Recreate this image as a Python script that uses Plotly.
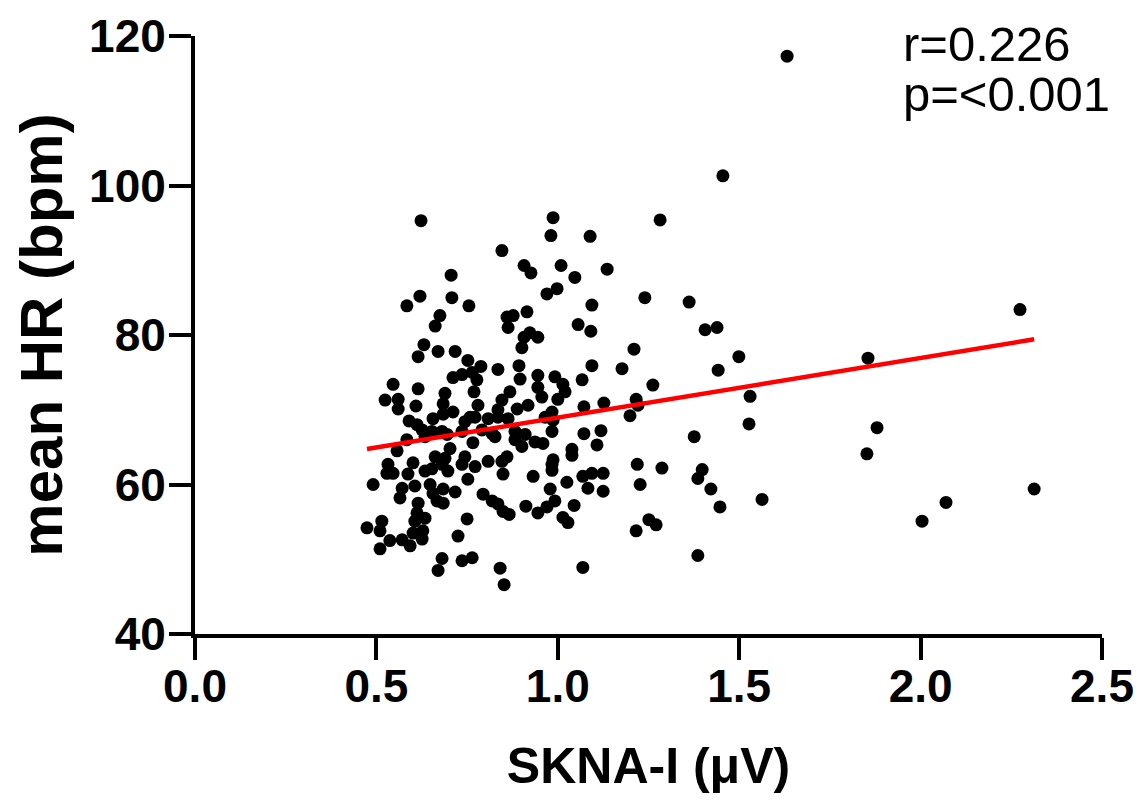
import numpy as np
import plotly.graph_objects as go

# SKNA-I (µV) values
skna = [
    1.632, 1.455, 1.282, 2.274, 1.362, 1.240, 1.406, 1.439, 1.499, 1.855,
    1.442, 1.530, 1.527, 1.880, 1.376, 1.852, 1.563, 2.004, 2.070, 2.313,
    1.386, 1.447, 1.398, 1.386, 1.422, 1.210, 1.262, 1.216, 1.221, 1.199,
    1.219, 1.287, 1.227, 1.251, 1.271, 1.216,
    0.987, 0.981, 1.089, 0.846, 0.907, 0.926, 1.009, 1.047, 1.136, 0.970,
    0.998, 1.094, 0.860, 0.877, 0.915, 0.863, 1.056, 1.091, 0.907, 0.923,
    0.945,
    0.901, 0.835, 0.893, 0.945, 0.992, 1.014, 1.020, 1.094, 1.177, 0.896,
    1.067, 0.945, 0.956, 1.000, 0.868, 0.846, 0.835, 0.888, 0.918, 0.863,
    0.835, 0.965, 0.984, 0.987, 1.072, 1.127, 0.882, 0.882, 0.910, 0.827,
    0.937, 0.959, 0.984, 1.072, 1.119, 1.108, 0.901, 1.039, 1.039, 0.860,
    0.846, 0.987,
    0.849, 0.932, 0.984, 0.984, 1.025, 0.979, 1.069, 1.094, 1.125, 1.083,
    1.125, 0.835, 0.849, 0.866, 0.912, 0.945, 0.970, 0.992, 1.045, 1.014,
    1.028, 0.841, 0.852, 1.069,
    0.631, 0.615, 0.670, 0.717, 0.752, 0.788, 0.711, 0.736, 0.764, 0.777,
    0.769, 0.546, 0.524, 0.560, 0.560, 0.615, 0.689, 0.609, 0.684, 0.711,
    0.684, 0.780, 0.808, 0.590, 0.612, 0.656, 0.626, 0.634, 0.653, 0.681,
    0.695, 0.744, 0.758, 0.772, 0.736, 0.791, 0.819, 0.584, 0.557, 0.766,
    0.601, 0.703, 0.662, 0.689, 0.681, 0.532, 0.744, 0.736, 0.772, 0.808,
    0.529, 0.546, 0.587, 0.491, 0.634, 0.653, 0.697, 0.752, 0.571, 0.606,
    0.565, 0.648, 0.656, 0.684, 0.717, 0.667, 0.684, 0.794, 0.819, 0.615,
    0.612, 0.634, 0.606, 0.750, 0.515, 0.474, 0.510, 0.537, 0.571, 0.593,
    0.510, 0.601, 0.628, 0.626, 0.725, 0.681, 0.670, 0.736, 0.764,
    0.623, 0.706, 0.620, 0.584, 0.708, 0.755, 0.675, 0.662,
]

# mean HR (bpm) values
mean_hr = [
    117.3, 101.3, 95.4, 83.4, 84.4, 85.0, 80.7, 81.0, 77.1, 76.9,
    75.3, 71.8, 68.1, 67.6, 66.4, 64.1, 58.0, 55.1, 57.6, 59.4,
    50.5, 57.0, 62.0, 60.8, 59.4, 78.1, 73.3, 71.4, 70.6, 69.2,
    62.7, 62.2, 60.0, 55.3, 54.6, 53.8,
    95.7, 93.3, 93.2, 91.3, 89.3, 88.3, 89.3, 87.7, 88.8, 85.5,
    86.2, 84.0, 82.4, 82.6, 83.1, 81.0, 81.4, 80.5, 79.7, 80.3,
    79.7,
    78.3, 75.4, 75.9, 74.6, 74.4, 73.4, 72.4, 75.9, 75.5, 74.1,
    74.0, 73.0, 71.7, 71.4, 72.4, 71.3, 70.0, 70.1, 70.6, 68.8,
    69.0, 69.0, 69.7, 68.6, 70.4, 70.9, 67.1, 66.0, 66.7, 66.4,
    65.7, 65.5, 67.1, 66.8, 67.2, 65.3, 65.1, 64.7, 63.9, 63.7,
    63.1, 63.3,
    61.4, 61.1, 62.7, 61.9, 60.3, 59.4, 61.1, 61.5, 61.5, 59.5,
    59.1, 57.4, 56.4, 56.0, 57.1, 56.2, 57.0, 57.8, 57.2, 55.6,
    54.9, 48.8, 46.6, 48.9,
    78.7, 77.1, 77.8, 77.8, 76.6, 75.8, 74.3, 74.7, 75.0, 74.0,
    72.4, 73.4, 71.3, 71.4, 70.1, 72.8, 72.2, 70.5, 70.8, 69.7,
    69.4, 70.6, 68.8, 68.5, 68.0, 68.8, 67.3, 66.4, 67.1, 67.1,
    66.7, 68.4, 69.0, 69.0, 67.1, 67.3, 66.8, 66.0, 64.5, 65.6,
    62.9, 64.8, 63.7, 63.5, 62.7, 62.7, 63.7, 62.7, 62.4, 63.1,
    61.5, 61.5, 61.4, 60.0, 61.8, 62.1, 61.8, 60.7, 59.5, 59.8,
    58.2, 60.0, 58.8, 59.4, 59.0, 57.8, 57.5, 58.7, 57.8, 57.5,
    56.2, 55.5, 55.1, 55.4, 55.1, 54.2, 53.8, 52.5, 52.6, 51.8,
    51.4, 53.5, 53.8, 52.7, 53.1, 50.1, 48.5, 49.8, 50.2,
    95.3, 88.0, 85.2, 83.9, 85.0, 83.9, 82.6, 81.2,
]

# Linear fit as drawn in the picture
fit_slope = 7.98
fit_intercept = 60.97

x_ticks = [0.0, 0.5, 1.0, 1.5, 2.0, 2.5]
x_tick_labels = ["0.0", "0.5", "1.0", "1.5", "2.0", "2.5"]
y_ticks = [40, 60, 80, 100, 120]
y_tick_labels = ["40", "60", "80", "100", "120"]

stat_r = "r=0.226"
stat_p = "p=<0.001"

fit_x = np.array([min(skna), max(skna)])
fit_y = fit_intercept + fit_slope * fit_x

FONT = "Liberation Sans, Arial, sans-serif"

fig = go.Figure()
fig.add_trace(go.Scatter(
    x=skna, y=mean_hr, mode="markers",
    marker=dict(color="black", size=13, line=dict(width=0)),
    showlegend=False, cliponaxis=False,
))
fig.add_trace(go.Scatter(
    x=fit_x, y=fit_y, mode="lines",
    line=dict(color="#ff0000", width=4.5),
    showlegend=False,
))

tick_font = dict(family=FONT, size=46, color="black", weight="bold")

fig.update_xaxes(
    range=[0, 2.5], tickvals=x_ticks, ticktext=x_tick_labels,
    showline=True, linecolor="black", linewidth=4,
    ticks="outside", ticklen=22, tickwidth=4, tickcolor="black",
    showgrid=False, zeroline=False, tickfont=tick_font,
    ticklabelstandoff=-13, automargin=False, ticklabeloverflow="allow",
    title=dict(text="SKNA-I (μV)", font=dict(family=FONT, size=50, color="black", weight="bold"), standoff=38),
)
fig.update_yaxes(
    range=[40, 120], tickvals=y_ticks, ticktext=y_tick_labels,
    showline=True, linecolor="black", linewidth=4,
    ticks="outside", ticklen=22, tickwidth=4, tickcolor="black",
    showgrid=False, zeroline=False, tickfont=tick_font,
    ticklabelstandoff=-6, automargin=False, ticklabeloverflow="allow",
    title=dict(text="mean HR (bpm)", font=dict(family=FONT, size=60, color="black", weight="bold"), standoff=12),
)

ann_font = dict(family=FONT, size=49, color="black")
fig.add_annotation(text=stat_r, xref="paper", yref="paper", x=0.778, y=1.0356,
                   xanchor="left", yanchor="top", showarrow=False, font=ann_font)
fig.add_annotation(text=stat_p, xref="paper", yref="paper", x=0.778, y=0.9518,
                   xanchor="left", yanchor="top", showarrow=False, font=ann_font)

fig.update_layout(
    width=1134, height=794,
    margin=dict(l=187, r=40, t=28, b=168),
    plot_bgcolor="white", paper_bgcolor="white",
)

fig.write_html("out.html")
